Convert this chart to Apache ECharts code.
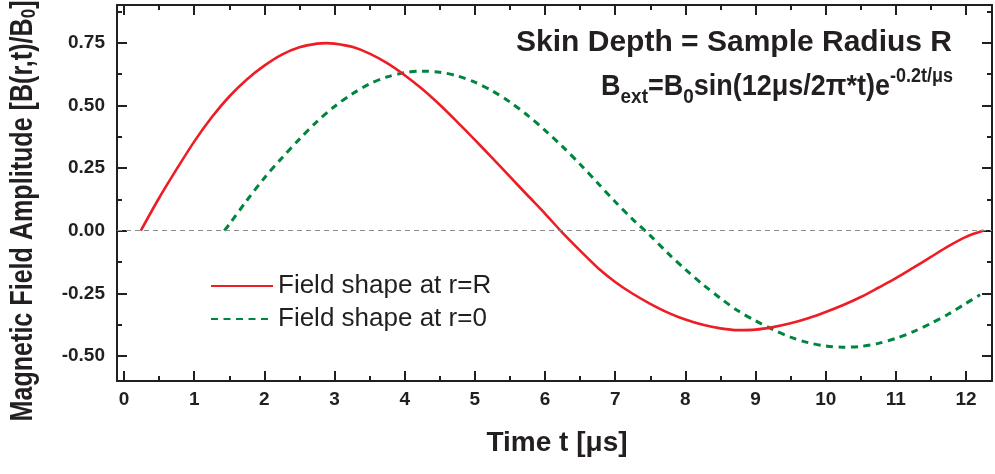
<!DOCTYPE html>
<html><head><meta charset="utf-8">
<script src="https://cdn.jsdelivr.net/npm/echarts@6/dist/echarts.min.js"></script>
<style>html,body{margin:0;padding:0;background:#fff}#c{width:995px;height:474px}</style>
</head><body><div id="c"></div>
<script>
// ---- data ----
const redTime = [0.24,0.5,0.75,1.0,1.25,1.5,1.75,2.0,2.25,2.5,2.75,2.88,3.0,3.25,3.5,3.75,4.0,4.25,4.5,4.75,5.0,5.25,5.5,5.75,6.0,6.22,6.5,6.75,7.0,7.25,7.5,7.75,8.0,8.25,8.5,8.75,9.0,9.25,9.5,9.75,10.0,10.25,10.5,10.75,11.0,11.25,11.5,11.75,12.0,12.25];
const redField = [0,0.13,0.245,0.355,0.452,0.535,0.603,0.658,0.702,0.731,0.746,0.748,0.746,0.733,0.706,0.668,0.620,0.565,0.502,0.433,0.362,0.289,0.215,0.141,0.068,0,-0.08,-0.148,-0.205,-0.252,-0.292,-0.327,-0.355,-0.376,-0.39,-0.397,-0.395,-0.385,-0.37,-0.35,-0.325,-0.297,-0.265,-0.228,-0.19,-0.148,-0.105,-0.062,-0.025,0];
const greenTime = [1.43,1.5,1.75,2.0,2.25,2.5,2.75,3.0,3.25,3.5,3.75,4.0,4.25,4.5,4.75,5.0,5.25,5.5,5.75,6.0,6.25,6.5,6.75,7.0,7.25,7.5,7.75,8.0,8.25,8.5,8.75,9.0,9.25,9.5,9.75,10.0,10.25,10.5,10.75,11.0,11.25,11.5,11.75,12.0,12.2];
const greenField = [0,0.025,0.12,0.21,0.29,0.365,0.435,0.495,0.545,0.585,0.613,0.63,0.636,0.632,0.617,0.592,0.557,0.513,0.46,0.40,0.335,0.265,0.19,0.115,0.045,-0.02,-0.09,-0.155,-0.215,-0.27,-0.32,-0.36,-0.395,-0.425,-0.447,-0.46,-0.465,-0.462,-0.45,-0.43,-0.403,-0.37,-0.333,-0.29,-0.256];
const seriesNames = ['Field shape at r=R', 'Field shape at r=0'];
const xTickLabels = [0,1,2,3,4,5,6,7,8,9,10,11,12];
const xMinorTicks = [0.5,1.5,2.5,3.5,4.5,5.5,6.5,7.5,8.5,9.5,10.5,11.5];
const yTickLabels = [-0.5,-0.25,0,0.25,0.5,0.75];
const yMinorTicks = [-0.375,-0.125,0.125,0.375,0.625,0.875];
const xTitle = 'Time t [μs]';
const yTitle = 'Magnetic Field Amplitude [B(r,t)/B{s|0}]';
const noteLine1 = 'Skin Depth = Sample Radius R';
const noteLine2 = '{m|B}{sub|ext}{m|=B}{sub|0}{m|sin(12μs/2π*t)e}{sup|-0.2t/μs}';

// ---- styling ----
const FF = '"Liberation Sans", Arial, sans-serif';
const INK = '#231f20';
const RED = '#ee1d25';
const GREEN = '#00853e';
const X_MIN = -0.1, X_MAX = 12.37, Y_MIN = -0.6, Y_MAX = 0.9;

function axis(dim, pos, values, len, showLabel, showLine){
  return {
    type: 'value', position: pos,
    min: dim === 'x' ? X_MIN : Y_MIN, max: dim === 'x' ? X_MAX : Y_MAX,
    axisLine: {show: showLine, onZero: false, lineStyle: {color: INK, width: 2}},
    axisTick: {show: true, inside: true, length: len, customValues: values, lineStyle: {color: INK, width: 2}},
    axisLabel: {show: showLabel, customValues: values, fontSize: 19, fontWeight: 'bold', color: INK, fontFamily: FF,
      margin: dim === 'x' ? 9 : 12,
      formatter: dim === 'x' ? (v => String(v)) : (v => v.toFixed(2))},
    splitLine: {show: false}, minorTick: {show: false}
  };
}

const chart = echarts.init(document.getElementById('c'), null, {renderer: 'canvas'});
chart.setOption({
  animation: false,
  backgroundColor: '#fff',
  grid: {left: 117, right: 3, top: 5, bottom: 93, containLabel: false, outerBoundsMode: 'none'},
  xAxis: [
    axis('x', 'bottom', xTickLabels, 10, true, true),
    axis('x', 'bottom', xMinorTicks, 5, false, false),
    axis('x', 'top', xTickLabels, 10, false, true),
    axis('x', 'top', xMinorTicks, 5, false, false)
  ],
  yAxis: [
    axis('y', 'left', yTickLabels, 10, true, true),
    axis('y', 'left', yMinorTicks, 5, false, false),
    axis('y', 'right', yTickLabels, 10, false, true),
    axis('y', 'right', yMinorTicks, 5, false, false)
  ],
  legend: {
    orient: 'vertical', left: 205, top: 268, itemWidth: 62, itemHeight: 14, itemGap: 7,
    data: seriesNames.map(n => ({name: n, itemStyle: {opacity: 0}})), selectedMode: false,
    textStyle: {fontSize: 26, color: INK, fontFamily: FF}
  },
  series: [
    {
      name: seriesNames[0], type: 'line', xAxisIndex: 0, yAxisIndex: 0,
      data: redTime.map((t, i) => [t, redField[i]]),
      symbol: 'none', showSymbol: false, smooth: 0.3, z: 4,
      lineStyle: {color: RED, width: 2.6}, itemStyle: {color: RED},
      markLine: {silent: true, symbol: ['none', 'none'], label: {show: false},
        lineStyle: {color: '#8c8c8c', width: 1, type: [5, 4]}, data: [{yAxis: 0}]}
    },
    {
      name: seriesNames[1], type: 'line', xAxisIndex: 0, yAxisIndex: 0,
      data: greenTime.map((t, i) => [t, greenField[i]]),
      symbol: 'none', showSymbol: false, smooth: 0.3, z: 3,
      lineStyle: {color: GREEN, width: 3, type: [7, 5.5]}, itemStyle: {color: GREEN}
    }
  ],
  graphic: [
    {type: 'text', x: 952, y: 43, silent: true,
      style: {text: noteLine1, font: 'bold 30px ' + FF, fill: INK, align: 'right', verticalAlign: 'middle'}},
    {type: 'text', x: 953, y: 66, scaleX: 0.9, silent: true,
      style: {text: noteLine2, fill: INK, align: 'right', verticalAlign: 'top',
        rich: {
          m: {fontSize: 30, fontWeight: 'bold', fontFamily: FF, fill: INK, lineHeight: 42, verticalAlign: 'middle'},
          sub: {fontSize: 21, fontWeight: 'bold', fontFamily: FF, fill: INK, lineHeight: 14, verticalAlign: 'bottom'},
          sup: {fontSize: 20, fontWeight: 'bold', fontFamily: FF, fill: INK, lineHeight: 14, verticalAlign: 'top'}
        }}},
    {type: 'text', x: 557, y: 443, silent: true,
      style: {text: xTitle, font: 'bold 28px ' + FF, fill: INK, align: 'center', verticalAlign: 'middle'}},
    {type: 'text', x: 23, y: 211, rotation: Math.PI / 2, scaleX: 0.81, silent: true,
      style: {text: yTitle, fill: INK, align: 'center', verticalAlign: 'middle',
        fontSize: 31, fontWeight: 'bold', fontFamily: FF,
        rich: {s: {fontSize: 21, fontWeight: 'bold', fontFamily: FF, fill: INK, padding: [12, 0, 0, 0]}}}}
  ]
});
</script>
</body></html>
